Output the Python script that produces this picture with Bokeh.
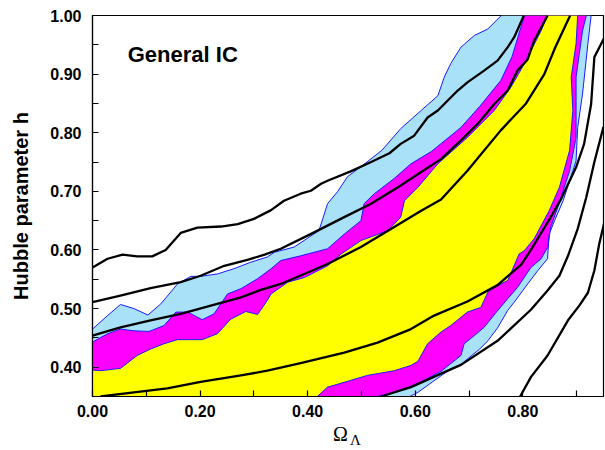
from bokeh.plotting import figure
from bokeh.models import Range1d, FixedTicker, PrintfTickFormatter, Label, LinearAxis
from bokeh.embed import file_html
from bokeh.resources import INLINE

# axis limits
X_MIN, X_MAX = 0.0, 0.95
H_MIN, H_MAX = 0.35, 1.0

# ---- filled regions: upper-left edge (left -> top) and lower-right edge (top -> bottom)
blue_up_x = [0.0, 0.028, 0.052, 0.077, 0.103, 0.127, 0.158, 0.183, 0.201, 0.232, 0.263, 0.294, 0.325,
             0.338, 0.375, 0.421, 0.428, 0.437, 0.456, 0.474, 0.499, 0.538, 0.573, 0.611, 0.642, 0.654,
             0.666, 0.685, 0.710, 0.735, 0.760]
blue_up_h = [0.465, 0.488, 0.507, 0.500, 0.489, 0.508, 0.542, 0.555, 0.555, 0.559, 0.568, 0.579, 0.588,
             0.596, 0.605, 0.633, 0.653, 0.679, 0.700, 0.725, 0.742, 0.770, 0.807, 0.838, 0.863, 0.895,
             0.918, 0.946, 0.966, 0.977, 1.0]
blue_lo_x = [0.927, 0.921, 0.911, 0.902, 0.899, 0.875, 0.859, 0.849, 0.846, 0.828, 0.809, 0.784, 0.772,
             0.753, 0.735, 0.720, 0.685, 0.666, 0.635, 0.605, 0.590]
blue_lo_h = [1.0, 0.952, 0.866, 0.809, 0.752, 0.684, 0.650, 0.627, 0.585, 0.565, 0.542, 0.511, 0.497,
             0.467, 0.445, 0.431, 0.405, 0.397, 0.377, 0.357, 0.35]

mag_up_x = [0.0, 0.028, 0.052, 0.077, 0.105, 0.133, 0.155, 0.177, 0.204, 0.226, 0.251, 0.276, 0.307,
            0.332, 0.350, 0.387, 0.437, 0.468, 0.499, 0.505, 0.524, 0.561, 0.592, 0.630, 0.685, 0.720,
            0.759, 0.780, 0.803]
mag_up_h = [0.443, 0.457, 0.465, 0.462, 0.461, 0.471, 0.494, 0.494, 0.481, 0.491, 0.525, 0.534, 0.551,
            0.568, 0.582, 0.590, 0.602, 0.627, 0.650, 0.679, 0.696, 0.722, 0.747, 0.768, 0.809, 0.845,
            0.889, 0.930, 1.0]
mag_lo_x = [0.918, 0.911, 0.899, 0.899, 0.899, 0.887, 0.865, 0.852, 0.846, 0.834, 0.815, 0.790, 0.772,
            0.750, 0.728, 0.710, 0.691, 0.685, 0.648, 0.605, 0.561, 0.530]
mag_lo_h = [1.0, 0.974, 0.895, 0.855, 0.792, 0.735, 0.673, 0.639, 0.604, 0.585, 0.570, 0.536, 0.517,
            0.493, 0.468, 0.454, 0.440, 0.420, 0.393, 0.372, 0.357, 0.35]

yel_up_x = [0.0, 0.015, 0.052, 0.083, 0.108, 0.133, 0.158, 0.183, 0.204, 0.232, 0.257, 0.285, 0.307,
            0.325, 0.332, 0.363, 0.394, 0.437, 0.462, 0.499, 0.549, 0.573, 0.580, 0.605, 0.642, 0.697,
            0.747, 0.778, 0.803, 0.834, 0.846]
yel_up_h = [0.395, 0.394, 0.398, 0.420, 0.431, 0.440, 0.447, 0.447, 0.447, 0.457, 0.482, 0.495, 0.490,
            0.514, 0.525, 0.545, 0.553, 0.573, 0.593, 0.616, 0.633, 0.656, 0.684, 0.707, 0.747, 0.792,
            0.838, 0.878, 0.918, 0.974, 1.0]
yel_lo_x = [0.902, 0.899, 0.890, 0.893, 0.887, 0.868, 0.849, 0.821, 0.803, 0.793, 0.772, 0.747, 0.735,
            0.722, 0.697, 0.666, 0.648, 0.623, 0.605, 0.592, 0.561, 0.511, 0.449, 0.437, 0.418]
yel_lo_h = [1.0, 0.952, 0.895, 0.838, 0.770, 0.707, 0.667, 0.619, 0.599, 0.593, 0.548, 0.536, 0.528,
            0.502, 0.494, 0.471, 0.460, 0.440, 0.410, 0.403, 0.394, 0.386, 0.369, 0.366, 0.35]

# ---- black contour curves
a_x = [0.0, 0.028, 0.056, 0.083, 0.111, 0.136, 0.164, 0.195, 0.239, 0.270, 0.300, 0.332, 0.356, 0.387,
       0.406, 0.425, 0.437, 0.480, 0.518, 0.552, 0.573, 0.598, 0.623, 0.642, 0.679, 0.697, 0.728, 0.753,
       0.772, 0.784, 0.802]
a_h = [0.570, 0.585, 0.592, 0.589, 0.589, 0.600, 0.629, 0.638, 0.640, 0.644, 0.653, 0.668, 0.684, 0.696,
       0.701, 0.713, 0.718, 0.734, 0.750, 0.765, 0.781, 0.795, 0.826, 0.838, 0.872, 0.886, 0.906, 0.923,
       0.946, 0.963, 1.0]
b_x = [0.0, 0.052, 0.108, 0.164, 0.201, 0.245, 0.288, 0.320, 0.350, 0.412, 0.468, 0.518, 0.573, 0.611,
       0.648, 0.685, 0.716, 0.747, 0.772, 0.790, 0.809, 0.821, 0.846]
b_h = [0.511, 0.522, 0.535, 0.545, 0.556, 0.573, 0.583, 0.592, 0.602, 0.630, 0.656, 0.679, 0.710, 0.733,
       0.755, 0.787, 0.815, 0.849, 0.872, 0.906, 0.925, 0.957, 1.0]
c_x = [0.0, 0.052, 0.108, 0.164, 0.220, 0.276, 0.313, 0.350, 0.437, 0.499, 0.561, 0.611, 0.648, 0.697,
       0.759, 0.806, 0.840, 0.860, 0.888]
c_h = [0.454, 0.468, 0.480, 0.491, 0.505, 0.519, 0.532, 0.542, 0.576, 0.605, 0.639, 0.667, 0.686, 0.735,
       0.804, 0.850, 0.900, 0.945, 1.0]
d_x = [0.015, 0.077, 0.139, 0.201, 0.276, 0.325, 0.387, 0.468, 0.530, 0.592, 0.635, 0.697, 0.753, 0.797,
       0.815, 0.850, 0.870, 0.899, 0.914, 0.927, 0.933, 0.952]
d_h = [0.350, 0.357, 0.364, 0.375, 0.386, 0.394, 0.407, 0.425, 0.442, 0.465, 0.488, 0.512, 0.540, 0.575,
       0.600, 0.653, 0.685, 0.741, 0.781, 0.849, 0.929, 0.963]
e_x = [0.536, 0.592, 0.648, 0.685, 0.753, 0.815, 0.846, 0.868, 0.884, 0.902, 0.918, 0.933, 0.950]
e_h = [0.350, 0.366, 0.389, 0.404, 0.445, 0.498, 0.531, 0.556, 0.590, 0.636, 0.690, 0.750, 0.810]
f_x = [0.795, 0.815, 0.846, 0.884, 0.905, 0.921, 0.933, 0.942, 0.951]
f_h = [0.350, 0.383, 0.420, 0.480, 0.505, 0.527, 0.565, 0.610, 0.645]

x_ticks = [0.0, 0.2, 0.4, 0.6, 0.8]
x_minor = [0.1, 0.3, 0.5, 0.7, 0.9]
y_ticks = [0.4, 0.5, 0.6, 0.7, 0.8, 0.9, 1.0]
y_minor = [0.45, 0.55, 0.65, 0.75, 0.85, 0.95]

title_text = "General IC"
y_label = "Hubble parameter h"
x_label_main = "\u03a9"
x_label_sub = "\u039b"
NBSP = "\u00a0"

LIGHTBLUE = "#a8e1f8"
MAGENTA = "#ff00ff"
YELLOW = "#ffff00"
EDGE = "#1a1aff"

p = figure(width=605, height=450, output_backend="svg", toolbar_location=None,
           x_range=Range1d(X_MIN, X_MAX), y_range=Range1d(H_MIN, H_MAX),
           min_border_left=92, min_border_right=2, min_border_top=15, min_border_bottom=54)
p.xgrid.visible = False
p.ygrid.visible = False
p.background_fill_color = "white"
p.border_fill_color = "white"
p.outline_line_color = "black"
p.outline_line_width = 1.2


def region(up_x, up_h, lo_x, lo_h, color):
    xs = up_x + lo_x + [X_MIN]
    ys = up_h + lo_h + [H_MIN]
    p.patch(xs, ys, fill_color=color, line_color=None)


region(blue_up_x, blue_up_h, blue_lo_x, blue_lo_h, LIGHTBLUE)
region(mag_up_x, mag_up_h, mag_lo_x, mag_lo_h, MAGENTA)
region(yel_up_x, yel_up_h, yel_lo_x, yel_lo_h, YELLOW)

for ex, eh in [(blue_up_x, blue_up_h), (blue_lo_x, blue_lo_h), (mag_up_x, mag_up_h),
               (mag_lo_x, mag_lo_h), (yel_up_x, yel_up_h), (yel_lo_x, yel_lo_h)]:
    p.line(ex, eh, line_color=EDGE, line_width=1)

for cx, ch in [(a_x, a_h), (b_x, b_h), (c_x, c_h), (d_x, d_h), (e_x, e_h), (f_x, f_h)]:
    p.line(cx, ch, line_color="black", line_width=2.3, line_join="round")

# axes
for ax in (p.xaxis[0], p.yaxis[0]):
    ax.major_tick_in = 6
    ax.major_tick_out = 0
    ax.minor_tick_in = 6
    ax.minor_tick_out = 0
    ax.major_tick_line_color = "black"
    ax.minor_tick_line_color = "black"
    ax.major_tick_line_width = 1.2
    ax.minor_tick_line_width = 1.2
    ax.axis_line_color = "black"
    ax.axis_line_width = 1.2
    ax.major_label_text_font = "Liberation Sans"
    ax.major_label_text_font_style = "bold"
    ax.major_label_text_font_size = "16px"
    ax.major_label_text_color = "black"
    ax.formatter = PrintfTickFormatter(format="%.2f")

p.xaxis[0].ticker = FixedTicker(ticks=x_ticks, minor_ticks=x_minor)
p.yaxis[0].ticker = FixedTicker(ticks=y_ticks, minor_ticks=y_minor)
p.xaxis[0].major_label_standoff = 8
p.yaxis[0].major_label_standoff = 11

p.yaxis[0].axis_label = y_label
p.yaxis[0].axis_label_text_font = "Liberation Sans"
p.yaxis[0].axis_label_text_font_style = "bold"
p.yaxis[0].axis_label_text_font_size = "20px"
p.yaxis[0].axis_label_text_color = "black"
p.yaxis[0].axis_label_standoff = 15

# x label: Omega on the main axis, subscript Lambda on a bare second axis below it
p.xaxis[0].axis_label = x_label_main + NBSP * 3
p.xaxis[0].axis_label_text_font = "Liberation Serif"
p.xaxis[0].axis_label_text_font_style = "normal"
p.xaxis[0].axis_label_text_font_size = "20px"
p.xaxis[0].axis_label_text_color = "black"
p.xaxis[0].axis_label_standoff = 3

sub_axis = LinearAxis(ticker=FixedTicker(ticks=[]), axis_line_color=None,
                      major_tick_line_color=None, minor_tick_line_color=None,
                      major_tick_in=0, major_tick_out=0, minor_tick_in=0, minor_tick_out=0,
                      major_label_standoff=0, major_label_text_font_size="0px",
                      axis_label=NBSP * 4 + x_label_sub, axis_label_text_font="Liberation Serif",
                      axis_label_text_font_style="normal", axis_label_text_font_size="15px",
                      axis_label_text_color="black", axis_label_standoff=-16)
p.add_layout(sub_axis, "below")

p.add_layout(Label(x=0.0655, y=0.933, text=title_text, text_font="Liberation Sans",
                   text_font_style="bold", text_font_size="22px", text_color="black",
                   text_baseline="alphabetic", text_align="left"))

open("out.html", "w").write(file_html(p, INLINE))
